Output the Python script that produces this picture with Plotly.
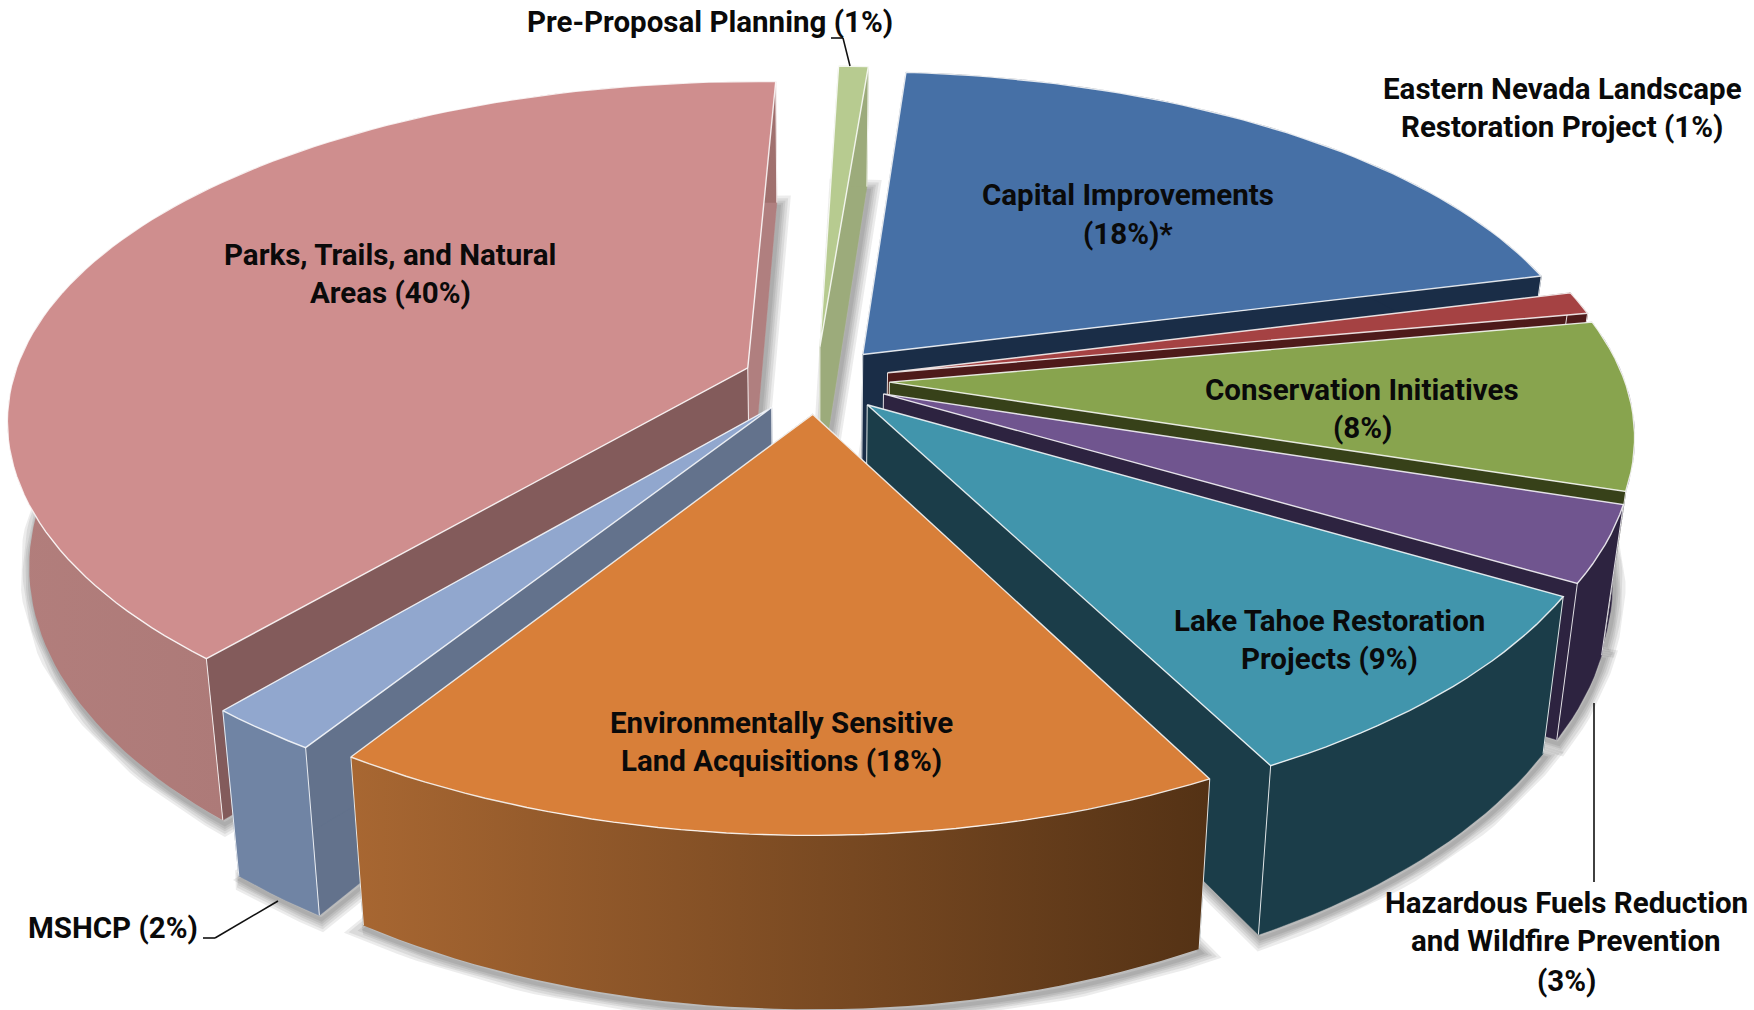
import math
import plotly.graph_objects as go

# --- data (clockwise from the top); the unrounded shares ---
categories = ["Capital Improvements", "Eastern Nevada Landscape Restoration Project",
              "Conservation Initiatives", "Hazardous Fuels Reduction and Wildfire Prevention",
              "Lake Tahoe Restoration Projects", "Environmentally Sensitive Land Acquisitions",
              "MSHCP", "Parks, Trails, and Natural Areas", "Pre-Proposal Planning"]
percent = [18.4, 1.0, 7.5, 3.4, 8.9, 17.8, 2.3, 39.9, 0.7]

top_colors = ["#4670A6", "#A54243", "#88A44E", "#70558F", "#4195AC", "#D87F39", "#91A7CE", "#CF8E8E", "#B7CB90"]
outer_colors = ["#1A2D47", "#4E1A1A", "#2D2340", "#2D2340", "#1B3D49", None, "#7084A4", None, "#9CAB7B"]
start_wall = ["#1A2D47", "#4E1A1A", "#374119", "#2D2340", "#1B3D49", "#1B3D49", "#63728C", "#835B5B", "#9CAB7B"]
end_wall = ["#1A2D47", "#4E1A1A", "#374119", "#2D2340", "#1B3D49", "#1B3D49", "#63728C", "#B07F7F", "#9CAB7B"]
gradients = {5: ["#A86732", "#543215"], 7: ["#B27E7C", "#A0706E"]}
draw_order = [0, 8, 7, 1, 2, 3, 4, 6, 5]
outer_wall_first = {2}

label_lines = [
    (["Capital Improvements", "(18%)*"], 1128, [195, 234]),
    (["Eastern Nevada Landscape", "Restoration Project (1%)"], 1562, [89, 127]),
    (["Conservation Initiatives", "(8%)"], 1362, [390, 428]),
    (["Hazardous Fuels Reduction", "and Wildfire Prevention", "(3%)"], 1566, [903, 941, 981]),
    (["Lake Tahoe Restoration", "Projects (9%)"], 1329, [621, 659]),
    (["Environmentally Sensitive", "Land Acquisitions (18%)"], 781, [723, 761]),
    (["MSHCP (2%)"], 113, [928]),
    (["Parks, Trails, and Natural", "Areas (40%)"], 390, [255, 293]),
    (["Pre-Proposal Planning (1%)"], 710, [22]),
]

# --- view of the tilted 3D pie ---
CX, CY = 816.0, 380.0
A, B, KX, KY = 735.0, 338.0, 0.145, 0.167
HEIGHT = 142.0
LEAN = 0.027
EXPLODE = 0.10
START = 2.35


def warp(deg):
    return deg + 4.5 + 4.5 * math.cos(math.radians(deg - 125))


def project(x, y):
    w = 1 + KY * y
    return CX + A * x / (1 + KX * y), CY - B * y / w, w


def drop(u, v, w):
    return u - (u - CX) * LEAN, v + HEIGHT / w


total = sum(percent)
angle = START
slices = {}
for i, pct in enumerate(percent):
    a0 = warp(angle)
    a1 = warp(angle + 360 * pct / total)
    mid = math.radians((a0 + a1) / 2)
    ex, ey = EXPLODE * math.sin(mid), EXPLODE * math.cos(mid)
    n = max(3, int(abs(a1 - a0) / 1.5))
    arc = []
    for j in range(n + 1):
        t = math.radians(a0 + (a1 - a0) * j / n)
        arc.append(project(ex + math.sin(t), ey + math.cos(t)))
    apex = project(ex, ey)
    slices[i] = (apex, arc)
    angle += 360 * pct / total


def poly(points):
    xs = [p[0] for p in points] + [points[0][0]]
    ys = [p[1] for p in points] + [points[0][1]]
    return xs, ys


EDGE = "rgba(255,255,255,0.85)"
fig = go.Figure()


def add(points, color, grad=None, width=1.0, edge=EDGE):
    xs, ys = poly(points)
    kw = dict(x=xs, y=ys, mode="lines", fill="toself", hoverinfo="skip", showlegend=False,
              line=dict(color=edge, width=width))
    if grad:
        kw["fillgradient"] = dict(type="horizontal", colorscale=[[0, grad[0]], [1, grad[1]]])
    else:
        kw["fillcolor"] = color
    fig.add_trace(go.Scatter(**kw))


# soft shadows go under everything
for i in draw_order:
    apex, arc = slices[i]
    ab = drop(*apex)
    bottom = [drop(*p) for p in arc]
    outline = [ab] + bottom
    xs, ys = poly([(p[0] + 2, p[1] + 4) for p in outline])
    for width in (22, 17, 12, 8, 4):
        fig.add_trace(go.Scatter(x=xs, y=ys, mode="lines", hoverinfo="skip", showlegend=False,
                                 line=dict(color="rgba(40,40,40,0.085)", width=width)))

for i in draw_order:
    apex, arc = slices[i]
    ap = apex[:2]
    ab = drop(*apex)
    tops = [p[:2] for p in arc]
    bottoms = [drop(*p) for p in arc]

    def outer_wall():
        add(tops + bottoms[::-1], outer_colors[i], grad=gradients.get(i),
            edge=outer_colors[i] or "rgba(0,0,0,0)", width=0.5)

    if i in outer_wall_first:
        outer_wall()
    add([ap, tops[0], bottoms[0], ab], start_wall[i], edge=start_wall[i], width=0.5)
    add([ap, tops[-1], bottoms[-1], ab], end_wall[i], edge=end_wall[i], width=0.5)
    if i not in outer_wall_first:
        outer_wall()
    # light corner edges
    for pair in ((tops[0], bottoms[0]), (tops[-1], bottoms[-1]), (ap, ab)):
        fig.add_trace(go.Scatter(x=[pair[0][0], pair[1][0]], y=[pair[0][1], pair[1][1]], mode="lines",
                                 hoverinfo="skip", showlegend=False, line=dict(color=EDGE, width=1)))
    add([ap] + tops, top_colors[i], width=1.4)

annotations = []
for lines, xc, ys in label_lines:
    for text, yc in zip(lines, ys):
        annotations.append(dict(x=xc, y=yc, text=text, showarrow=False, xanchor="center", yanchor="middle",
                                font=dict(family="Roboto", size=29.5, color="#0a0a0a", weight="bold")))

leader = dict(type="line", line=dict(color="#111111", width=1.6), xref="x", yref="y", layer="above")
shapes = [
    dict(leader, x0=831, y0=38, x1=843, y1=38), dict(leader, x0=843, y0=38, x1=850, y1=66),
    dict(leader, x0=203, y0=938, x1=215, y1=938), dict(leader, x0=215, y0=938, x1=278, y1=901),
    dict(leader, x0=1594, y0=703, x1=1594, y1=882),
]

fig.update_layout(
    width=1754, height=1010, margin=dict(l=0, r=0, t=0, b=0),
    paper_bgcolor="white", plot_bgcolor="white", showlegend=False,
    xaxis=dict(range=[0, 1754], visible=False, fixedrange=True),
    yaxis=dict(range=[1010, 0], visible=False, fixedrange=True),
    annotations=annotations, shapes=shapes,
)
fig.write_html("out.html", config=dict(displayModeBar=False),
               post_script="document.body.style.margin='0';document.body.style.overflow='hidden';")
